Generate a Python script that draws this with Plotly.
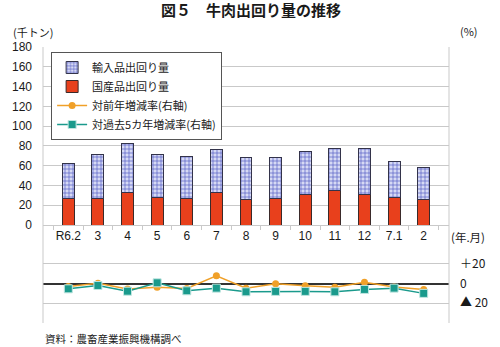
import plotly.graph_objects as go

# Monthly beef distribution volume (thousand tonnes) and growth rates (%)
months = ["R6.2", "3", "4", "5", "6", "7", "8", "9", "10", "11", "12", "7.1", "2"]
domestic = [26.6, 26.3, 32.4, 27.6, 27.3, 32.4, 26.0, 27.3, 31.0, 34.7, 31.0, 27.6, 26.0]
imported = [35.8, 45.5, 49.8, 44.2, 41.5, 44.1, 42.0, 41.1, 43.5, 42.8, 46.2, 36.4, 32.6]
yoy_rate = [-3.0, 0.3, -5.5, -3.7, -5.0, 7.8, -4.7, -0.3, -2.3, -3.7, 1.3, -3.5, -6.0]
five_year_rate = [-5.4, -2.0, -7.8, 0.7, -7.4, -4.7, -8.4, -8.0, -8.0, -8.4, -6.0, -4.7, -10.0]

left_ticks = list(range(0, 181, 20))
right_ticks = [-40, -20, 0, 20, 40]
right_ticktext = ["", "▲ 20", "0", "＋20", ""]

FONT = "Liberation Sans, Arial, Noto Sans CJK JP"
GRID = "#c9c9c9"

fig = go.Figure()

fig.add_trace(go.Bar(
    x=months, y=domestic, name="国産品出回り量",
    marker=dict(color="#e8401c", line=dict(color="#3a2a2a", width=1)),
    legendrank=2,
))
fig.add_trace(go.Bar(
    x=months, y=imported, name="輸入品出回り量",
    marker=dict(
        color="#c9ccef",
        line=dict(color="#33334a", width=1),
        pattern=dict(shape="+", fillmode="replace", fgcolor="#5058c0",
                     bgcolor="#d6d9f4", size=4, solidity=0.3),
    ),
    legendrank=1,
))
fig.add_trace(go.Scatter(
    x=months, y=yoy_rate, name="対前年増減率(右軸)", yaxis="y2",
    mode="lines+markers",
    line=dict(color="#f0a028", width=1.5),
    marker=dict(symbol="circle", size=7, color="#f0a028"),
    legendrank=3,
))
fig.add_trace(go.Scatter(
    x=months, y=five_year_rate, name="対過去5カ年増減率(右軸)", yaxis="y2",
    mode="lines+markers",
    line=dict(color="#1a9a8c", width=1.5),
    marker=dict(symbol="square", size=8, color="#1a9a8c",
                line=dict(color="#bfe6e0", width=1)),
    legendrank=4,
))

fig.update_layout(
    width=500, height=347,
    margin=dict(l=33, r=43, t=47, b=24),
    paper_bgcolor="white", plot_bgcolor="white",
    font=dict(family=FONT, size=12, color="#1a1a1a"),
    barmode="stack", bargap=0.6,
    showlegend=True,
    legend=dict(
        x=0.02, y=1 - (52 - 47) / 276, xanchor="left", yanchor="top",
        bgcolor="white", bordercolor="#555", borderwidth=1,
        font=dict(size=11, family="Noto Sans CJK JP"),
        traceorder="normal", tracegroupgap=0,
        itemwidth=30,
    ),
    xaxis=dict(
        type="category", anchor="y",
        showgrid=False, showline=True, linecolor=GRID, linewidth=1,
        ticks="outside", tickson="boundaries", ticklen=4, tickcolor=GRID,
        tickangle=0, tickfont=dict(size=12),
    ),
    yaxis=dict(
        domain=[(323 - 225) / 276, 1], range=[0, 180],
        tickvals=left_ticks, showgrid=True, gridcolor=GRID, gridwidth=1,
        zeroline=False, showline=False, ticks="", ticklabelstandoff=10,
        tickfont=dict(size=12),
    ),
    yaxis2=dict(
        domain=[0, (323 - 244) / 276], range=[-40, 40], anchor="x", side="right",
        tickvals=right_ticks, ticktext=right_ticktext,
        showgrid=True, gridcolor=GRID, gridwidth=1,
        zeroline=True, zerolinecolor="#333", zerolinewidth=2,
        showline=False, ticks="", ticklabelstandoff=10,
        tickfont=dict(size=12, family="Noto Sans CJK JP, Liberation Sans"),
    ),
    shapes=[
        dict(type="line", xref="paper", yref="paper", x0=0, x1=0, y0=0, y1=1,
             line=dict(color=GRID, width=1)),
        dict(type="line", xref="paper", yref="paper", x0=1, x1=1, y0=0, y1=1,
             line=dict(color=GRID, width=1)),
    ],
    annotations=[
        dict(text="<b>図５　牛肉出回り量の推移</b>", xref="paper", yref="paper",
             x=(250 - 33) / 424, y=1 + (47 - 9) / 276, xanchor="center", yanchor="middle",
             showarrow=False, font=dict(size=15, family="Noto Sans CJK JP")),
        dict(text="(千トン)", xref="paper", yref="paper",
             x=-33 / 424, y=1 + (47 - 32) / 276, xanchor="left", yanchor="middle",
             showarrow=False, font=dict(size=11, family="Noto Sans CJK JP")),
        dict(text="(%)", xref="paper", yref="paper",
             x=1 + (466 - 457) / 424, y=1 + (47 - 31) / 276, xanchor="left", yanchor="middle",
             showarrow=False, font=dict(size=11, family="Noto Sans CJK JP")),
        dict(text="(年.月)", xref="paper", yref="paper",
             x=1, y=(323 - 237) / 276, xanchor="left", yanchor="middle",
             showarrow=False, font=dict(size=11.5, family="Noto Sans CJK JP")),
        dict(text="資料：農畜産業振興機構調べ", xref="paper", yref="paper",
             x=0, y=-(338 - 323) / 276, xanchor="left", yanchor="middle",
             showarrow=False, font=dict(size=10.5, family="Noto Sans CJK JP")),
    ],
)

fig.write_html("out.html")
